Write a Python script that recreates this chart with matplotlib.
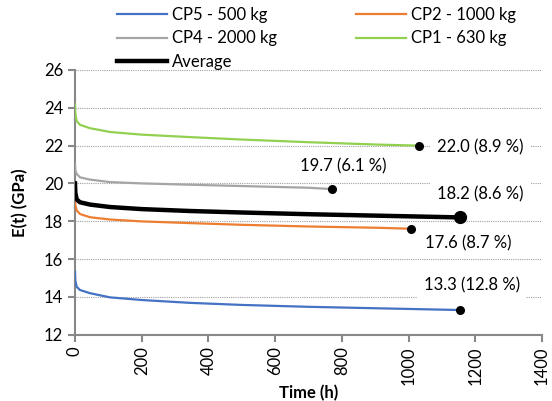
import matplotlib
matplotlib.use("Agg")
import matplotlib.pyplot as plt
from matplotlib.lines import Line2D

plt.rcParams['font.family'] = ['Lato', 'DejaVu Sans']

# creep modulus E(t), time in hours
t_cp5 = [0, 1, 5, 15, 45, 105, 200, 344, 500, 700, 913, 1154]
e_cp5 = [15.33, 14.85, 14.53, 14.36, 14.19, 13.97, 13.83, 13.68, 13.57, 13.47, 13.39, 13.3]

t_cp2 = [0, 1, 5, 15, 45, 105, 200, 344, 500, 700, 913, 1008]
e_cp2 = [19.3, 18.85, 18.57, 18.38, 18.21, 18.09, 17.99, 17.9, 17.81, 17.72, 17.65, 17.6]

t_cp4 = [0, 1, 5, 15, 45, 105, 200, 344, 500, 700, 771]
e_cp4 = [21.03, 20.7, 20.5, 20.32, 20.2, 20.07, 20.0, 19.93, 19.86, 19.77, 19.7]

t_cp1 = [0, 1, 5, 15, 45, 105, 200, 344, 500, 700, 913, 1030]
e_cp1 = [24.18, 23.7, 23.3, 23.1, 22.92, 22.72, 22.58, 22.45, 22.32, 22.18, 22.05, 22.0]

t_avg = [0, 1, 5, 15, 45, 105, 200, 344, 500, 700, 913, 1155]
e_avg = [20.0, 19.5, 19.15, 19.0, 18.88, 18.75, 18.64, 18.54, 18.46, 18.37, 18.29, 18.2]

# final value and loss in percent for each specimen
end_labels = ["13.3 (12.8 %)", "17.6 (8.7 %)", "19.7 (6.1 %)", "22.0 (8.9 %)", "18.2 (8.6 %)"]

FS = 12

fig = plt.figure(figsize=(5.52, 4.01), dpi=100)
ax = fig.add_axes([75 / 552, 1 - 334.6 / 401, 467 / 552, 264.6 / 401])

series = [
    (t_cp5, e_cp5, "#4472C4", 1.6, "CP5 - 500 kg"),
    (t_cp2, e_cp2, "#ED7D31", 1.6, "CP2 - 1000 kg"),
    (t_cp4, e_cp4, "#A5A5A5", 1.6, "CP4 - 2000 kg"),
    (t_cp1, e_cp1, "#92D050", 1.6, "CP1 - 630 kg"),
    (t_avg, e_avg, "black", 3.2, "Average"),
]
for t, e, c, lw, name in series:
    ax.plot(t, e, color=c, lw=lw, zorder=3)

# end points
for t, e, c, lw, name in series:
    ms = 8.5 if name == "Average" else 5.5
    ax.plot(t[-1], e[-1], "o", color="black", ms=ms, zorder=4)

# label positions (time, E) for the end values
label_pos = [(1045, 14.62), (1050, 16.83), (676, 20.9), (1086, 21.91), (1086, 19.42)]
for (x, y), s in zip(label_pos, end_labels):
    ax.text(x, y, s, fontsize=FS, va="center", ha="left", zorder=5,
            bbox=dict(boxstyle="square,pad=0.4", fc="white", ec="none"))

ax.set_xlim(0, 1400)
ax.set_ylim(12, 26)
ax.set_xticks(range(0, 1401, 200))
ax.set_yticks(range(12, 27, 2))
ax.yaxis.grid(True, color="#A0A0A0", ls=(0, (1, 1)), lw=0.8)
ax.set_axisbelow(True)
for side in ("top", "right"):
    ax.spines[side].set_visible(False)
for side in ("left", "bottom"):
    ax.spines[side].set_color("#888888")
    ax.spines[side].set_linewidth(1.5)
ax.tick_params(colors="#888888", width=1.5, length=5, labelcolor="black", labelsize=FS)
ax.tick_params(axis="x", labelrotation=90)
ax.set_xlabel("Time (h)", fontsize=FS, fontweight="bold", labelpad=0)
ax.set_ylabel("E(t) (GPa)", fontsize=FS, fontweight="bold", labelpad=11)

# legend in two columns above the axes
handles = [Line2D([], [], color=c, lw=lw) for t, e, c, lw, name in series]
names = [s[4] for s in series]
legend_kw = dict(loc="upper left", frameon=False, fontsize=FS, handlelength=3.0,
                 handletextpad=0.3, labelspacing=0.45, borderpad=0, borderaxespad=0)
fig.legend([handles[0], handles[2], handles[4]], [names[0], names[2], names[4]],
           bbox_to_anchor=(117 / 552, 1 - 7 / 401), **legend_kw)
fig.legend([handles[1], handles[3]], [names[1], names[3]],
           bbox_to_anchor=(356 / 552, 1 - 7 / 401), **legend_kw)

fig.savefig("out.png", dpi=100)
